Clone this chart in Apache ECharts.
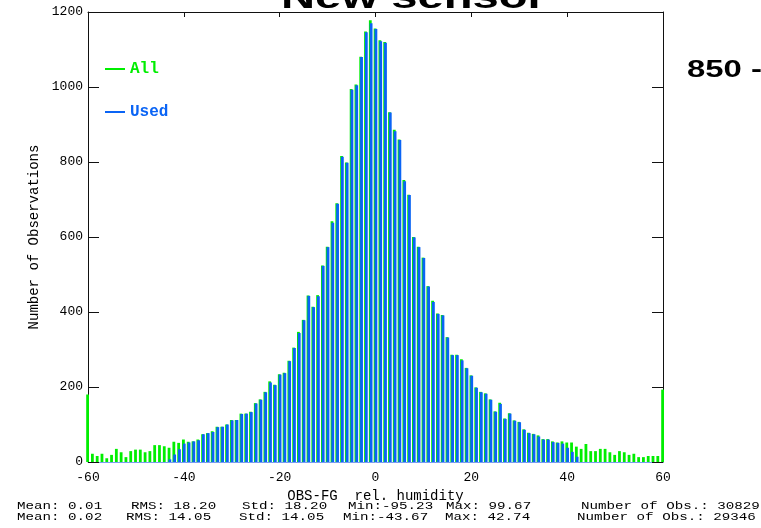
<!DOCTYPE html>
<html>
<head>
<meta charset="utf-8">
<script src="https://cdn.jsdelivr.net/npm/echarts@6/dist/echarts.min.js"></script>
<style>html,body{margin:0;padding:0;background:#fff}#c{width:761px;height:528px}</style>
</head>
<body>
<div id="c"></div>
<script>
// ---- data ----
const bins = [-60,-59,-58,-57,-56,-55,-54,-53,-52,-51,-50,-49,-48,-47,-46,-45,-44,-43,-42,-41,
  -40,-39,-38,-37,-36,-35,-34,-33,-32,-31,-30,-29,-28,-27,-26,-25,-24,-23,-22,-21,
  -20,-19,-18,-17,-16,-15,-14,-13,-12,-11,-10,-9,-8,-7,-6,-5,-4,-3,-2,-1,
  0,1,2,3,4,5,6,7,8,9,10,11,12,13,14,15,16,17,18,19,
  20,21,22,23,24,25,26,27,28,29,30,31,32,33,34,35,36,37,38,39,
  40,41,42,43,44,45,46,47,48,49,50,51,52,53,54,55,56,57,58,59,60];
const allObs = [180,22,16,22,10,19,35,26,13,29,33,33,26,29,45,45,42,38,54,51,
  60,54,55,60,74,77,82,94,94,100,112,112,129,129,134,157,167,187,215,206,
  234,238,270,305,347,379,444,414,445,524,574,642,690,816,799,995,1007,1081,1148,1178,
  1156,1125,1120,933,886,860,752,713,600,574,545,469,430,396,392,333,286,286,274,251,
  231,199,187,183,167,135,158,116,130,111,107,87,78,75,71,61,61,55,52,55,
  52,52,41,35,48,29,29,35,35,26,19,29,26,19,22,13,13,16,16,16,193];
const usedObs = [0,0,0,0,0,0,0,0,0,0,0,0,0,0,0,0,0,7,20,34,
  49,52,55,58,74,77,80,93,94,100,111,112,128,129,133,156,166,186,212,205,
  233,237,269,304,344,378,443,413,442,523,573,638,689,814,798,993,1005,1080,1146,1170,
  1155,1122,1118,932,882,859,749,712,599,573,544,468,427,395,391,332,285,285,271,250,
  230,198,186,182,166,134,155,115,129,110,106,86,77,74,68,60,60,53,51,49,
  38,27,14,0,0,0,0,0,0,0,0,0,0,0,0,0,0,0,0,0,0];
const seriesNames = ['All', 'Used'];
const titleText = 'New sensor';
const sideText = '850 -';
const xAxisName = 'OBS-FG  rel. humidity';
const yAxisName = 'Number of Observations';
const statsAll = ['Mean: 0.01', 'RMS: 18.20', 'Std: 18.20', 'Min:-95.23', 'Max: 99.67', 'Number of Obs.: 30829'];
const statsUsed = ['Mean: 0.02', 'RMS: 14.05', 'Std: 14.05', 'Min:-43.67', 'Max: 42.74', 'Number of Obs.: 29346'];

// ---- layout / style ----
const GREEN = '#00ee00', BLUE = '#0a64f5';
const MONO = '"Liberation Mono", "DejaVu Sans Mono", monospace';
const statX1 = [17, 131, 242, 348, 446, 581];
const statX2 = [17, 126, 239, 343, 445, 577];

const graphics = [
  {type:'text', x:281, y:-1, scaleX:1.43, style:{text:titleText, font:'bold 33px "Liberation Sans", Arial, sans-serif', fill:'#000', align:'left', verticalAlign:'middle'}},
  {type:'text', x:687, y:71, scaleX:1.43, style:{text:sideText, font:'bold 23px "Liberation Sans", Arial, sans-serif', fill:'#000', align:'left', verticalAlign:'middle'}}
];
statsAll.forEach((t, i) => graphics.push({type:'text', x:statX1[i], y:506, scaleX:1.29,
  style:{text:t, font:'11px ' + MONO, fill:'#000', align:'left', verticalAlign:'middle'}}));
statsUsed.forEach((t, i) => graphics.push({type:'text', x:statX2[i], y:517, scaleX:1.29,
  style:{text:t, font:'11px ' + MONO, fill:'#000', align:'left', verticalAlign:'middle'}}));

const axisLineStyle = {color:'#111', width:1};
const chart = echarts.init(document.getElementById('c'), null, {renderer:'canvas'});
chart.setOption({
  animation:false,
  backgroundColor:'#fff',
  grid:{left:88, top:12, width:575, height:450},
  legend:{
    orient:'vertical', left:100, top:56, itemGap:27, itemWidth:20, itemHeight:2, icon:'rect',
    selectedMode:false,
    data:[{name:seriesNames[0], textStyle:{color:GREEN}}, {name:seriesNames[1], textStyle:{color:BLUE}}],
    textStyle:{fontFamily:MONO, fontSize:16, fontWeight:'bold'}
  },
  xAxis:[
    {type:'value', min:-60, max:60, interval:20, position:'bottom',
     name:xAxisName, nameLocation:'middle', nameGap:23,
     nameTextStyle:{fontFamily:MONO, fontSize:14, color:'#000'},
     axisLine:{show:true, onZero:false, lineStyle:{color:'#7a9cf0', width:1}},
     axisTick:{show:true, inside:true, length:5, lineStyle:axisLineStyle},
     axisLabel:{fontFamily:MONO, fontSize:13, color:'#000', margin:9},
     splitLine:{show:false}},
    {type:'value', min:-60, max:60, interval:20, position:'top',
     axisLine:{show:true, onZero:false, lineStyle:axisLineStyle},
     axisTick:{show:true, inside:true, length:5, lineStyle:axisLineStyle},
     axisLabel:{show:false}, splitLine:{show:false}}
  ],
  yAxis:[
    {type:'value', min:0, max:1200, interval:200, position:'left',
     name:yAxisName, nameLocation:'middle', nameGap:36,
     nameTextStyle:{fontFamily:MONO, fontSize:14, color:'#000'},
     axisLine:{show:true, onZero:false, lineStyle:axisLineStyle},
     axisTick:{show:true, inside:true, length:11, lineStyle:axisLineStyle},
     axisLabel:{fontFamily:MONO, fontSize:13, color:'#000', margin:5, formatter:(v) => String(v)},
     splitLine:{show:false}},
    {type:'value', min:0, max:1200, interval:200, position:'right',
     axisLine:{show:true, onZero:false, lineStyle:axisLineStyle},
     axisTick:{show:true, inside:true, length:11, lineStyle:axisLineStyle},
     axisLabel:{show:false}, splitLine:{show:false}}
  ],
  series:[
    {name:seriesNames[0], type:'bar', xAxisIndex:0, yAxisIndex:0, clip:false,
     barWidth:2.8, barGap:'-71%', itemStyle:{color:GREEN},
     data:bins.map((b, i) => [b, allObs[i]])},
    {name:seriesNames[1], type:'bar', xAxisIndex:0, yAxisIndex:0, clip:false,
     barWidth:2.8, barGap:'-71%', itemStyle:{color:BLUE},
     data:bins.map((b, i) => [b, usedObs[i]])}
  ],
  graphic:graphics
});
</script>
</body>
</html>
